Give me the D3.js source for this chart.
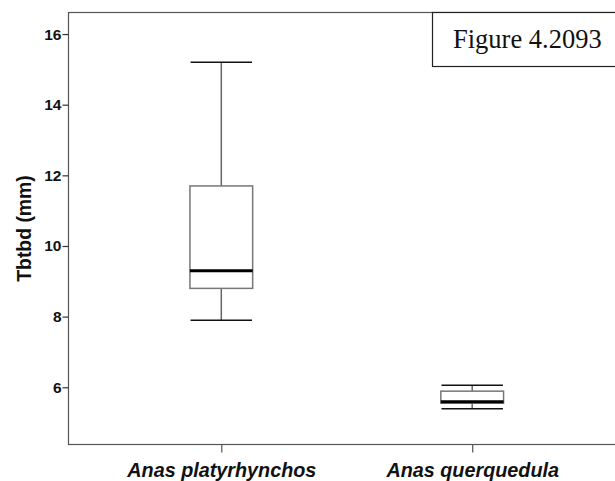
<!DOCTYPE html>
<html><head><meta charset="utf-8">
<script src="https://cdn.jsdelivr.net/npm/d3@7"></script>
<style>body{margin:0;background:#fff}svg{display:block}</style>
</head><body>
<svg id="c" width="615" height="481"></svg>
<script>
const categories = ["Anas platyrhynchos", "Anas querquedula"];
const whiskerLow = [7.9, 5.39];
const q1 = [8.8, 5.55];
const median = [9.3, 5.59];
const q3 = [11.7, 5.89];
const whiskerHigh = [15.2, 6.06];
const yTicks = [6, 8, 10, 12, 14, 16];
const yTitle = "Tbtbd (mm)";
const figLabel = "Figure 4.2093";

(function () {
const svg = d3.select("#c");
const pl = 68.5, pr = 625, pt = 12.5, pb = 444.5;

const y = d3.scaleLinear().domain([4.38, 16.61]).range([pb, pt]);
const x = d3.scalePoint().domain(categories).range([pl, pr]).padding(0.609);
const step = x.step();
const boxW = step * 0.25, capW = boxW * 0.49;

// frame
svg.append("rect").attr("x", pl).attr("y", pt).attr("width", pr - pl).attr("height", pb - pt)
  .attr("fill", "none").attr("stroke", "#555").attr("stroke-width", 1.2);

// y axis
const ya = svg.append("g").attr("transform", `translate(${pl},0)`)
  .call(d3.axisLeft(y).tickValues(yTicks).tickSize(6).tickPadding(1).tickFormat(d3.format("d")));
ya.select(".domain").remove();
ya.selectAll("line").attr("stroke", "#333").attr("stroke-width", 1.2);
ya.selectAll("text").attr("font-family", "Liberation Sans, Arial, sans-serif").attr("font-weight", "bold")
  .attr("font-size", 15.5).attr("fill", "#111");

// x axis
const xa = svg.append("g").attr("transform", `translate(0,${pb})`)
  .call(d3.axisBottom(x).tickSize(8).tickPadding(10));
xa.select(".domain").remove();
xa.selectAll("line").attr("stroke", "#555").attr("stroke-width", 1.2);
xa.selectAll("text").attr("font-family", "Liberation Sans, Arial, sans-serif").attr("font-weight", "bold")
  .attr("font-style", "italic").attr("font-size", 19.8).attr("fill", "#111");

// y title
svg.append("text").attr("transform", `translate(30.5,${(pt + pb) / 2}) rotate(-90)`)
  .attr("text-anchor", "middle").attr("font-family", "Liberation Sans, Arial, sans-serif")
  .attr("font-weight", "bold").attr("font-size", 19.4).attr("fill", "#111").text(yTitle);

// boxes
categories.forEach((c, i) => {
  const cx = x(c);
  const g = svg.append("g");
  g.append("line").attr("x1", cx).attr("x2", cx).attr("y1", y(whiskerHigh[i])).attr("y2", y(q3[i]))
    .attr("stroke", "#666").attr("stroke-width", 1.5);
  g.append("line").attr("x1", cx).attr("x2", cx).attr("y1", y(q1[i])).attr("y2", y(whiskerLow[i]))
    .attr("stroke", "#666").attr("stroke-width", 1.5);
  g.append("line").attr("x1", cx - capW).attr("x2", cx + capW).attr("y1", y(whiskerHigh[i])).attr("y2", y(whiskerHigh[i]))
    .attr("stroke", "#111").attr("stroke-width", 1.5);
  g.append("line").attr("x1", cx - capW).attr("x2", cx + capW).attr("y1", y(whiskerLow[i])).attr("y2", y(whiskerLow[i]))
    .attr("stroke", "#111").attr("stroke-width", 1.5);
  g.append("rect").attr("x", cx - boxW / 2).attr("width", boxW).attr("y", y(q3[i])).attr("height", y(q1[i]) - y(q3[i]))
    .attr("fill", "#fff").attr("stroke", "#777").attr("stroke-width", 1.5);
  g.append("line").attr("x1", cx - boxW / 2).attr("x2", cx + boxW / 2).attr("y1", y(median[i])).attr("y2", y(median[i]))
    .attr("stroke", "#000").attr("stroke-width", 3);
});

// figure label
svg.append("rect").attr("x", 432.5).attr("y", 12.5).attr("width", 200).attr("height", 54)
  .attr("fill", "#fff").attr("stroke", "#222").attr("stroke-width", 1.2);
svg.append("text").attr("x", 453).attr("y", 48).attr("font-family", "Liberation Serif, Times New Roman, serif")
  .attr("font-size", 26.5).attr("fill", "#111").text(figLabel);
})();
</script>
</body></html>
